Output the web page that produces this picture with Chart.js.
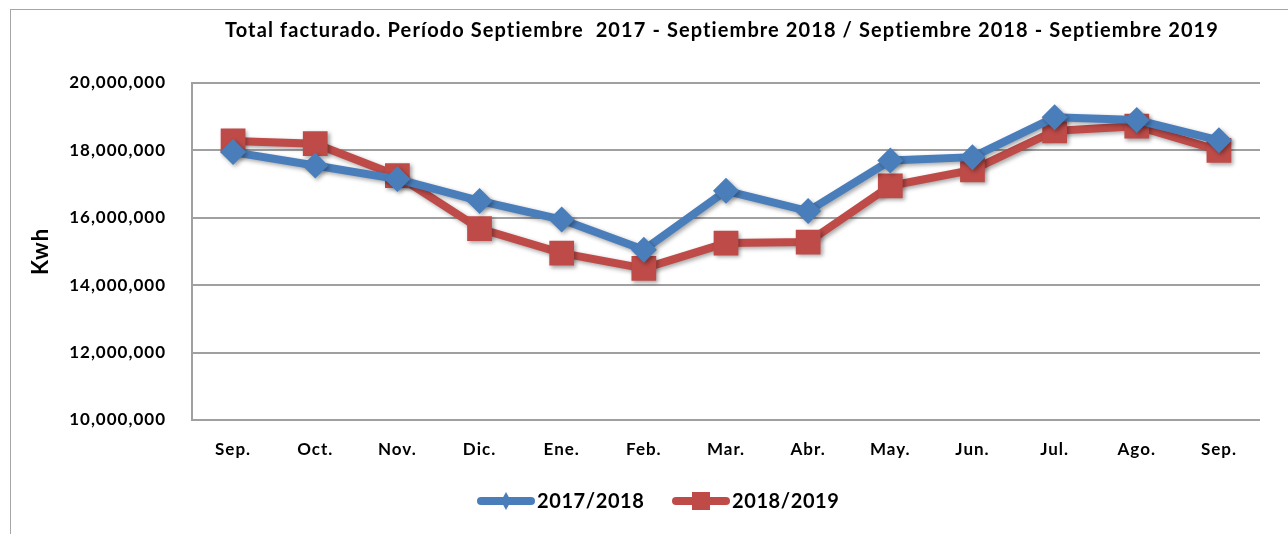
<!DOCTYPE html>
<html><head><meta charset="utf-8">
<script src="https://cdn.jsdelivr.net/npm/chart.js@4"></script>
<style>
html,body{margin:0;padding:0;background:#fff;overflow:hidden;}
#wrap{position:relative;width:1288px;height:534px;}
#frame{position:absolute;left:10px;top:9px;width:1300px;height:560px;border:1.5px solid #a6a6a6;box-sizing:border-box;}
canvas{position:absolute;left:0;top:0;}
</style></head>
<body><div id="wrap"><div id="frame"></div><canvas id="c" width="1288" height="534"></canvas></div>
<script>
const titleText = 'Total facturado. Período Septiembre  2017 - Septiembre 2018 / Septiembre 2018 - Septiembre 2019';
const categories = ['Sep.','Oct.','Nov.','Dic.','Ene.','Feb.','Mar.','Abr.','May.','Jun.','Jul.','Ago.','Sep.'];
const series1Name = '2017/2018';
const series1 = [17950000,17550000,17150000,16500000,15950000,15050000,16800000,16200000,17700000,17800000,18980000,18900000,18300000];
const series2Name = '2018/2019';
const series2 = [18280000,18200000,17250000,15680000,14950000,14500000,15250000,15280000,16950000,17420000,18580000,18720000,18000000];
const yTicks = [10000000,12000000,14000000,16000000,18000000,20000000];
const yAxisTitle = 'Kwh';

const BLUE = '#4a7ebb', RED = '#be4b48';
const FONT = 'Lato, "Open Sans", sans-serif';

const spacingPlugin = {
  id:'spacing',
  beforeUpdate(chart){ chart.ctx.letterSpacing='1px'; },
  beforeDraw(chart){ chart.ctx.letterSpacing='1px'; }
};
const shadowPlugin = {
  id:'shadow',
  beforeDatasetsDraw(chart){ const c=chart.ctx; c.save(); c.shadowColor='rgba(0,0,0,0.35)'; c.shadowBlur=4; c.shadowOffsetX=2; c.shadowOffsetY=2; },
  afterDatasetsDraw(chart){ chart.ctx.restore(); }
};
const textPlugin = {
  id:'texts',
  afterDraw(chart){
    const c = chart.ctx;
    c.save();
    c.fillStyle='#000';
    c.letterSpacing='1.1px';
    c.font = 'bold 20px '+FONT;
    c.textAlign='center'; c.textBaseline='middle';
    c.fillText(titleText, 722, 31);
    // legend
    const items = [{name:series1Name,color:BLUE,style:'rectRot',x:477},{name:series2Name,color:RED,style:'rect',x:672}];
    c.font='bold 20px '+FONT;
    c.letterSpacing='0.6px';
    c.textAlign='left';
    items.forEach(it=>{
      const y=501;
      c.strokeStyle=it.color; c.lineWidth=8; c.lineCap='round';
      c.beginPath(); c.moveTo(it.x+4,y); c.lineTo(it.x+54,y); c.stroke();
      c.fillStyle=it.color; c.beginPath();
      if(it.style==='rect'){ c.rect(it.x+20,y-9,18,18);} else { c.moveTo(it.x+29,y-9);c.lineTo(it.x+34,y);c.lineTo(it.x+29,y+9);c.lineTo(it.x+24,y);c.closePath(); }
      c.fill();
      c.fillStyle='#000';
      c.fillText(it.name, it.x+60, y+1);
    });
    c.restore();
  }
};

new Chart(document.getElementById('c'),{
  type:'line',
  data:{labels:categories,datasets:[
    {label:series1Name,data:series1,borderColor:BLUE,backgroundColor:BLUE,borderWidth:8,pointStyle:'rectRot',pointRadius:13,pointBorderWidth:0,pointBackgroundColor:BLUE,tension:0},
    {label:series2Name,data:series2,borderColor:RED,backgroundColor:RED,borderWidth:8,pointStyle:'rect',pointRadius:17.5,pointBorderWidth:0,pointBackgroundColor:RED,tension:0}
  ]},
  options:{
    responsive:false,animation:false,
    layout:{padding:{left:10,top:83,right:28,bottom:64}},
    plugins:{legend:{display:false},title:{display:false},tooltip:{enabled:false}},
    scales:{
      x:{offset:true,
        grid:{display:false,drawTicks:false},
        border:{display:false},
        ticks:{font:{family:FONT,size:17,weight:'bold'},color:'#000',padding:19,maxRotation:0},
        afterFit(s){s.height=50;}
      },
      y:{min:10000000,max:20000000,
        afterBuildTicks(s){s.ticks=yTicks.map(v=>({value:v}));},
        grid:{color:'#a0a0a0',lineWidth:2,drawTicks:false},
        border:{display:true,color:'#a0a0a0',width:2},
        ticks:{font:{family:FONT,size:17,weight:'bold'},color:'#000',padding:26,
          callback:v=>v.toLocaleString('en-US')},
        title:{display:true,text:yAxisTitle,font:{family:FONT,size:22,weight:'bold'},color:'#000',padding:{top:18,bottom:0}},
        afterFit(s){s.width=182;}
      }
    }
  },
  plugins:[spacingPlugin,shadowPlugin,textPlugin]
});
</script></body></html>
